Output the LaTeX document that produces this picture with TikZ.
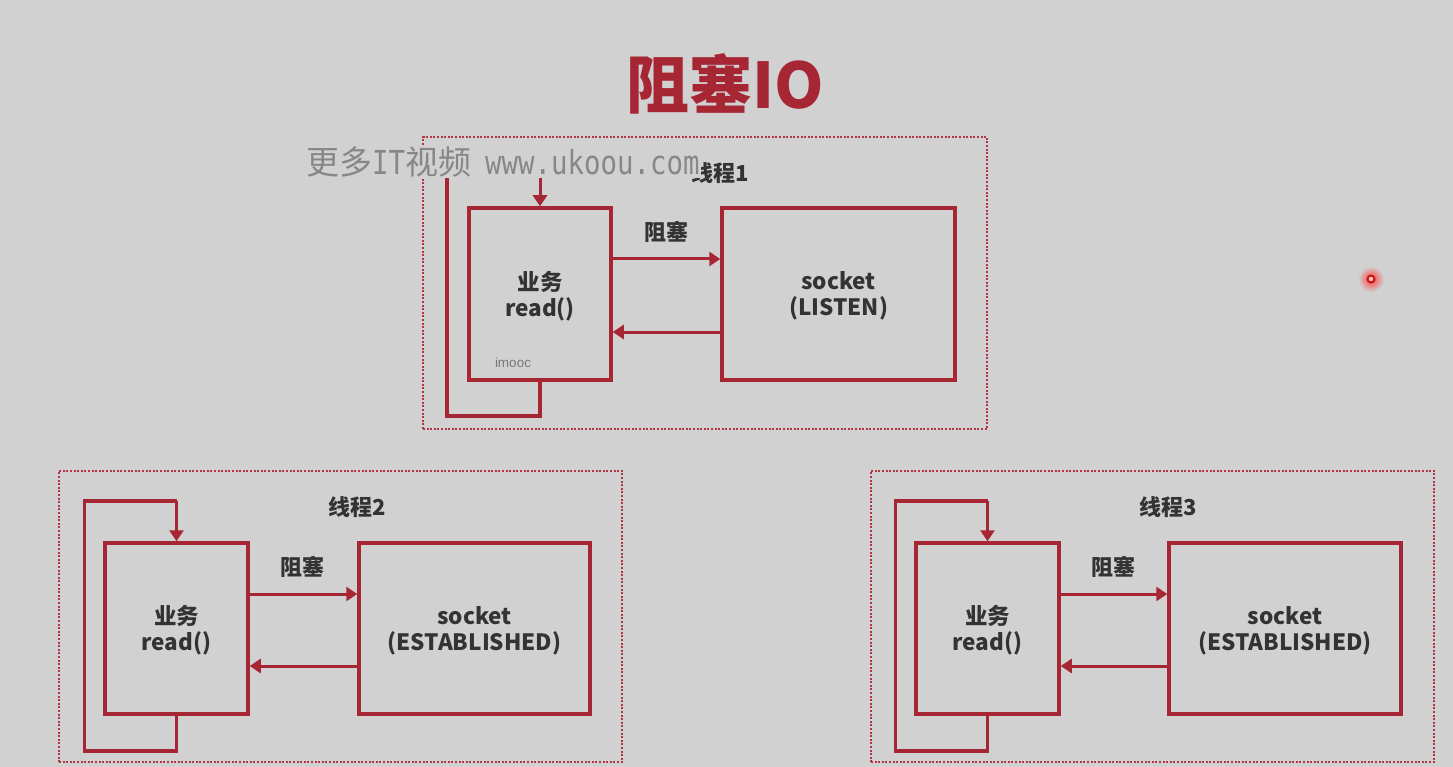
\documentclass[tikz,border=0pt]{standalone}
\usepackage{fontspec}
\setmainfont{Noto Sans CJK SC}
\newfontfamily\wmmono{DejaVu Sans Mono}
\newfontfamily\lsans{Liberation Sans}
\usetikzlibrary{arrows.meta}
\definecolor{bg}{RGB}{209,209,209}
\definecolor{rd}{RGB}{166,38,52}
\definecolor{frm}{RGB}{176,52,66}
\definecolor{txt}{RGB}{51,51,51}
\definecolor{wm}{RGB}{135,135,135}
\newcommand{\dn}[1]{\raisebox{-2pt}[\height][\depth]{#1}}
\tikzset{
  box/.style={draw=rd, line width=3.5pt, inner sep=0pt, text=txt, align=center,
    font=\bfseries\fontsize{22.5}{26}\selectfont},
  frame/.style={draw=frm, line width=1.8pt, dash pattern=on 2pt off 1.6pt, inner sep=0pt},
  arr/.style={draw=rd, line width=3pt, -{Triangle[length=11pt,width=14pt]}},
  loopline/.style={draw=rd, line width=3.5pt},
  lbl/.style={text=txt, font=\bfseries\fontsize{22}{26}\selectfont, inner sep=0pt}
}
\begin{document}
\begin{tikzpicture}[x=1pt,y=-1pt]
\useasboundingbox[fill=bg] (0,0) rectangle (1453,767);

\node[text=rd, font=\bfseries\fontsize{63}{70}\selectfont, inner sep=0pt] (title) at (725,84) {阻塞IO};

% ---------- thread 1 ----------
\node[frame, minimum width=564pt, minimum height=292pt] (f1) at (705,283) {};
\node[box, minimum width=142pt, minimum height=172pt] (a1) at (540,294) {\dn{业务}\\\dn{read()}};
\node[box, minimum width=233pt, minimum height=172pt] (b1) at (838.5,294) {\dn{socket}\\\dn{(LISTEN)}};
\draw[arr] ([yshift=35pt]a1.east) -- ([yshift=35pt]b1.west);
\draw[arr] ([yshift=-38pt]b1.west) -- ([yshift=-38pt]a1.east);
\node[lbl] (z1) at (666,232) {阻塞};
\node[lbl] (t1) at (720,173) {线程1};
\coordinate (l1a) at ([yshift=-34pt]a1.south);
\coordinate (l1b) at ([xshift=-93pt]l1a);
\coordinate (l1c) at ([yshift=249pt]l1b);
\coordinate (l1d) at ([xshift=93pt]l1c);
\draw[loopline] (a1.south) -- (l1a) -- (l1b) -- (l1c) -- (l1d);
\draw[arr] (l1d) -- (a1.north);
\node[text={rgb,255:red,120;green,120;blue,120}, font=\lsans\fontsize{13.5}{15}\selectfont, inner sep=0pt] (im) at (513,363) {imooc};

% ---------- thread 2 ----------
\node[frame, minimum width=563pt, minimum height=291pt] (f2) at (340.5,616.5) {};
\node[box, minimum width=143pt, minimum height=171pt] (a2) at (176.5,628.5) {\dn{业务}\\\dn{read()}};
\node[box, minimum width=231pt, minimum height=171pt] (b2) at (474.5,628.5) {\dn{socket}\\\dn{(ESTABLISHED)}};
\draw[arr] ([yshift=34.5pt]a2.east) -- ([yshift=34.5pt]b2.west);
\draw[arr] ([yshift=-37.5pt]b2.west) -- ([yshift=-37.5pt]a2.east);
\node[lbl] (z2) at (302,567) {阻塞};
\node[lbl] (t2) at (357,507) {线程2};
\coordinate (l2a) at ([yshift=-35pt]a2.south);
\coordinate (l2b) at ([xshift=-92pt]l2a);
\coordinate (l2c) at ([yshift=250pt]l2b);
\coordinate (l2d) at ([xshift=92pt]l2c);
\draw[loopline] (a2.south) -- (l2a) -- (l2b) -- (l2c) -- (l2d);
\draw[arr] (l2d) -- (a2.north);

% ---------- thread 3 ----------
\node[frame, minimum width=563pt, minimum height=291pt] (f3) at (1152.5,616.5) {};
\node[box, minimum width=143pt, minimum height=171pt] (a3) at (987.5,628.5) {\dn{业务}\\\dn{read()}};
\node[box, minimum width=232pt, minimum height=171pt] (b3) at (1285,628.5) {\dn{socket}\\\dn{(ESTABLISHED)}};
\draw[arr] ([yshift=34.5pt]a3.east) -- ([yshift=34.5pt]b3.west);
\draw[arr] ([yshift=-37.5pt]b3.west) -- ([yshift=-37.5pt]a3.east);
\node[lbl] (z3) at (1113,567) {阻塞};
\node[lbl] (t3) at (1168,507) {线程3};
\coordinate (l3a) at ([yshift=-35pt]a3.south);
\coordinate (l3b) at ([xshift=-92pt]l3a);
\coordinate (l3c) at ([yshift=250pt]l3b);
\coordinate (l3d) at ([xshift=92pt]l3c);
\draw[loopline] (a3.south) -- (l3a) -- (l3b) -- (l3c) -- (l3d);
\draw[arr] (l3d) -- (a3.north);

% ---------- watermark ----------
\node[fill=bg, inner sep=1pt, text=wm, anchor=west, font=\fontsize{33}{36}\selectfont] (wm) at (305,162)
  {更多\scalebox{0.83}[1]{\wmmono IT}视频\hspace{14pt}\scalebox{0.83}[1]{\wmmono www.ukoou.com}};

% ---------- pointer dot ----------
\shade[inner color=red!75!white, outer color=bg] (1371,279) circle (13pt);
\draw[draw={rgb,255:red,200;green,20;blue,20}, line width=2pt, fill=red!25!white] (1371,279) circle (3.5pt);
\end{tikzpicture}
\end{document}
